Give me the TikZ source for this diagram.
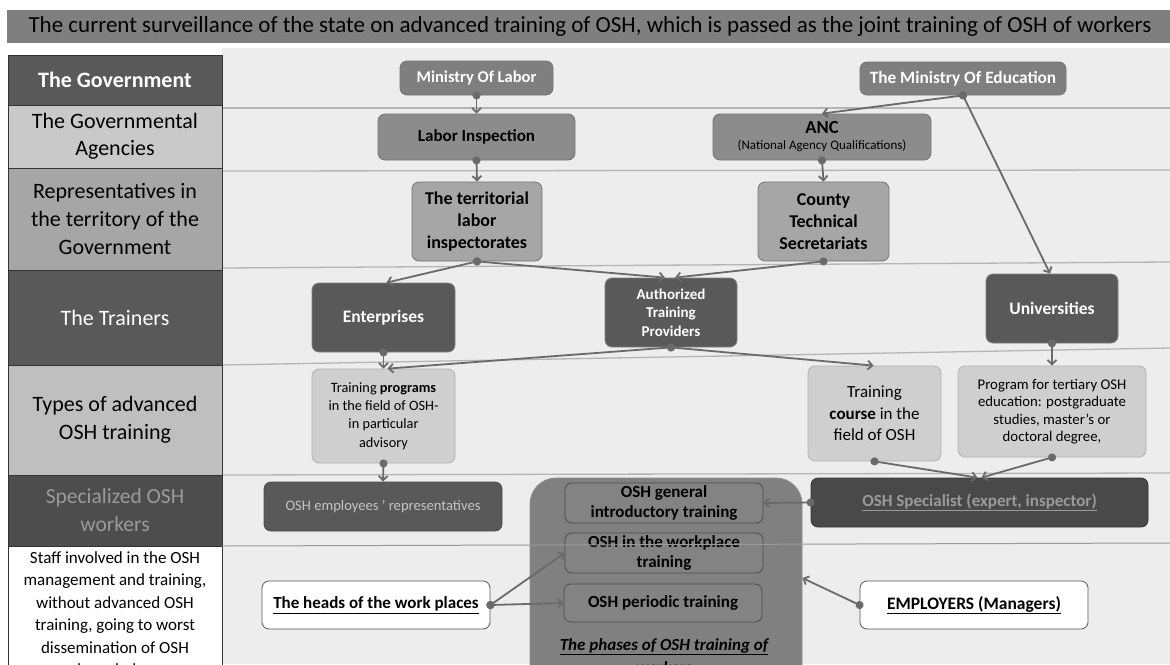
\documentclass[tikz,border=0pt]{standalone}
\usepackage{fontspec}
\setmainfont{Carlito}
\usetikzlibrary{arrows.meta,calc}
\definecolor{bgright}{HTML}{EDEDED}
\definecolor{titlebar}{HTML}{7F7F7F}
\definecolor{darkrow}{HTML}{595959}
\definecolor{lightrow}{HTML}{C9C9C9}
\definecolor{midrow}{HTML}{A6A6A6}
\definecolor{typrow}{HTML}{BFBFBF}
\definecolor{specrow}{HTML}{4D4D4D}
\definecolor{sepline}{HTML}{B5B5B5}
\definecolor{conncol}{HTML}{6A6A6A}
\definecolor{minfill}{HTML}{7F7F7F}
\definecolor{agfill}{HTML}{8C8C8C}
\definecolor{repfill}{HTML}{A6A6A6}
\definecolor{trfill}{HTML}{595959}
\definecolor{tyfill}{HTML}{CFCFCF}
\definecolor{phfill}{HTML}{808080}
\definecolor{pbfill}{HTML}{838383}
\definecolor{spectext}{HTML}{9A9A9A}
\definecolor{reptext}{HTML}{C4C4C4}
\newcommand{\fsz}[2]{\fontsize{#1}{#2}\selectfont}
\begin{document}
\begin{tikzpicture}[x=1pt,y=-1pt,
  rowbox/.style={rectangle, draw=black!80, line width=0.8pt, minimum width=214pt, align=center, inner sep=0pt},
  box/.style={rounded corners=7pt, draw=#1, line width=0.8pt, align=center, inner sep=2pt},
  box/.default={black!60},
  conn/.style={draw=conncol, line width=1.8pt, shorten <=-4pt, {Circle[length=8pt]}-{Straight Barb[length=4.5pt,width=9pt]}},
  sep/.style={draw=sepline, line width=1.3pt}
]
\useasboundingbox (0,0) rectangle (1170,664);
\clip (0,0) rectangle (1170,664);
\fill[white] (0,0) rectangle (1170,664);
% title bar
\node[rectangle, fill=titlebar, minimum width=1166pt, minimum height=33pt, inner sep=0pt, font=\fsz{23}{25}] (title) at (590,26.5) {The current surveillance of the state on advanced training of OSH, which is passed as the joint training of OSH of workers};
% right background
\fill[bgright] (222,48) rectangle (1170,664);
% separator lines
\draw[sep] (222,108) -- (1170,108);
\draw[sep] (222,171) -- (1170,170);
\draw[sep] (222,268) -- (1170,262);
\draw[sep] (222,365) -- (1170,348);
\draw[sep] (222,475) -- (1170,473);
% left column rows
\node[rowbox, fill=darkrow, minimum height=50pt, text=white, font=\fsz{22}{27}\bfseries] (rgov) at (115,80) {The Government};
\node[rowbox, fill=lightrow, minimum height=63pt, font=\fsz{22}{27}] (rag) at (115,136.5) {The Governmental\\Agencies};
\node[rowbox, fill=midrow, minimum height=102pt, font=\fsz{22}{28}] (rrep) at (115,219) {Representatives in\\the territory of the\\Government};
\node[rowbox, fill=darkrow, minimum height=95pt, text=white, font=\fsz{22}{27}] (rtr) at (115,317.5) {The Trainers};
\node[rowbox, fill=typrow, minimum height=110pt, font=\fsz{22}{28}] (rty) at (115,420) {Types of advanced\\OSH training};
\node[rowbox, fill=specrow, minimum height=71pt, text=spectext, font=\fsz{21.5}{28}] (rsp) at (115,510.5) {Specialized OSH\\workers};
\node[rowbox, fill=white, minimum height=124pt] (rst) at (115,608) {};
\node[anchor=north, align=center, font=\fsz{17}{22.5}, inner sep=0pt] (rsttext) at (115,551) {Staff involved in the OSH\\management and training,\\without advanced OSH\\training, going to worst\\dissemination of OSH\\knowledge};
% government level
\node[box=black!55, fill=minfill, minimum width=153pt, minimum height=34pt, text=white, font=\fsz{16.5}{19}\bfseries] (mol) at (476.5,78) {Ministry Of Labor};
\node[box=black!55, fill=minfill, minimum width=206pt, minimum height=33pt, text=white, font=\fsz{17.3}{19}\bfseries] (moe) at (963,78.5) {The Ministry Of Education};
% agencies
\node[box=black!55, fill=agfill, minimum width=197pt, minimum height=46pt, font=\fsz{17}{20}\bfseries] (li) at (476.5,137) {Labor Inspection};
\node[box=black!55, fill=agfill, minimum width=218pt, minimum height=46pt, inner sep=1pt] (anc) at (822,137) {{\fsz{18.5}{20}\bfseries ANC}\\[4pt]{\fsz{13}{15}(National Agency Qualifications)}};
% representatives
\node[box=black!55, fill=repfill, minimum width=130pt, minimum height=79pt, font=\fsz{18}{22}\bfseries] (tli) at (477,221.5) {The territorial\\labor\\inspectorates};
\node[box=black!55, fill=repfill, minimum width=131pt, minimum height=79pt, font=\fsz{18}{22}\bfseries] (cts) at (823.5,221.5) {County\\Technical\\Secretariats};
% trainers
\node[box=black!50, fill=trfill, minimum width=143pt, minimum height=69pt, text=white, font=\fsz{17.5}{20}\bfseries] (ent) at (383.5,317.5) {Enterprises};
\node[box=black!50, fill=trfill, minimum width=132pt, minimum height=69pt, text=white, font=\fsz{15}{18.3}\bfseries] (atp) at (671,312.5) {Authorized\\Training\\Providers};
\node[box=black!50, fill=trfill, minimum width=132pt, minimum height=69pt, text=white, font=\fsz{17.5}{20}\bfseries] (uni) at (1052,308.5) {Universities};
% types
\node[box=black!30, fill=tyfill, minimum width=143pt, minimum height=94pt, font=\fsz{14.3}{18.3}] (tp) at (383.5,416) {Training \textbf{programs}\\in the field of OSH-\\in particular\\advisory};
\node[box=black!30, fill=tyfill, minimum width=133pt, minimum height=95pt, font=\fsz{17}{21.7}] (tc) at (874.5,413.5) {Training\\\textbf{course} in the\\field of OSH};
\node[box=black!30, fill=tyfill, minimum width=188pt, minimum height=91pt, font=\fsz{14.8}{17.5}] (prog) at (1052,411.5) {Program for tertiary OSH\\education: postgraduate\\studies, master's or\\doctoral degree,};
% specialized
\node[box=black!70, fill=trfill, minimum width=238pt, minimum height=49pt, text=reptext, font=\fsz{14.6}{17}] (rep) at (383,506.5) {OSH employees ' representatives};
\node[box=black!80, fill=specrow!95!black, minimum width=337pt, minimum height=49pt, text=spectext, font=\fsz{17}{19}\bfseries] (spec) at (979.5,502.5) {\underline{OSH Specialist (expert, inspector)}};
% phases
\node[rounded corners=26pt, draw=black!45, line width=0.8pt, fill=phfill, minimum width=272pt, minimum height=222pt, inner sep=0pt] (phase) at (666,589) {};
\node[box=black!70, fill=pbfill, minimum width=198pt, minimum height=40pt, font=\fsz{17}{20}\bfseries] (p1) at (664,503) {OSH general\\introductory training};
\node[box=black!70, fill=pbfill, minimum width=198pt, minimum height=40pt, font=\fsz{17}{20}\bfseries] (p2) at (664,553) {OSH in the workplace\\training};
\node[box=black!70, fill=pbfill, minimum width=198pt, minimum height=38pt, font=\fsz{17}{20}\bfseries] (p3) at (663,603) {OSH periodic training};
\node[align=center, font=\fsz{17}{23}\bfseries\itshape, inner sep=0pt] (phlabel) at (664,657) {\underline{The phases of OSH training of}\\\underline{workers}};
% workplace persons
\node[box=black!65, fill=white, minimum width=228pt, minimum height=48pt, font=\fsz{17}{19}\bfseries] (heads) at (376,605) {\underline{The heads of the work places}};
\node[box=black!65, fill=white, minimum width=228pt, minimum height=48pt, font=\fsz{17.5}{19}\bfseries] (emp) at (974,605) {\underline{EMPLOYERS (Managers)}};
% line over the phase box
\draw[draw=sepline!85!black, line width=1pt] (222,546) -- (1170,543);
% connectors
\draw[conn] (mol.south) -- (li.north);
\draw[conn] (li.south) -- (tli.north);
\draw[conn] (moe.south) -- (anc.north);
\draw[conn] (moe.south) -- ([xshift=-2pt]uni.north);
\draw[conn] (anc.south) -- (cts.north);
\draw[conn] (tli.south) -- ([xshift=3pt]ent.north);
\draw[conn] (tli.south) -- ([xshift=-6pt]atp.north);
\draw[conn] (cts.south) -- ([xshift=4pt]atp.north);
\draw[conn] (ent.south) -- (tp.north);
\draw[conn] (atp.south) -- ([xshift=4pt]tp.north);
\draw[conn] (atp.south) -- ([xshift=-1pt]tc.north);
\draw[conn] (uni.south) -- (prog.north);
\draw[conn] (tp.south) -- (rep.north);
\draw[conn] (tc.south) -- ([xshift=-2pt]spec.north);
\draw[conn] (prog.south) -- ([xshift=2pt]spec.north);
\draw[conn] (spec.west) -- (p1.east);
\draw[conn] (heads.east) -- (p2.west);
\draw[conn] (heads.east) -- (p3.west);
\draw[conn] (emp.west) -- ([yshift=11pt]phase.east);
\end{tikzpicture}
\end{document}
